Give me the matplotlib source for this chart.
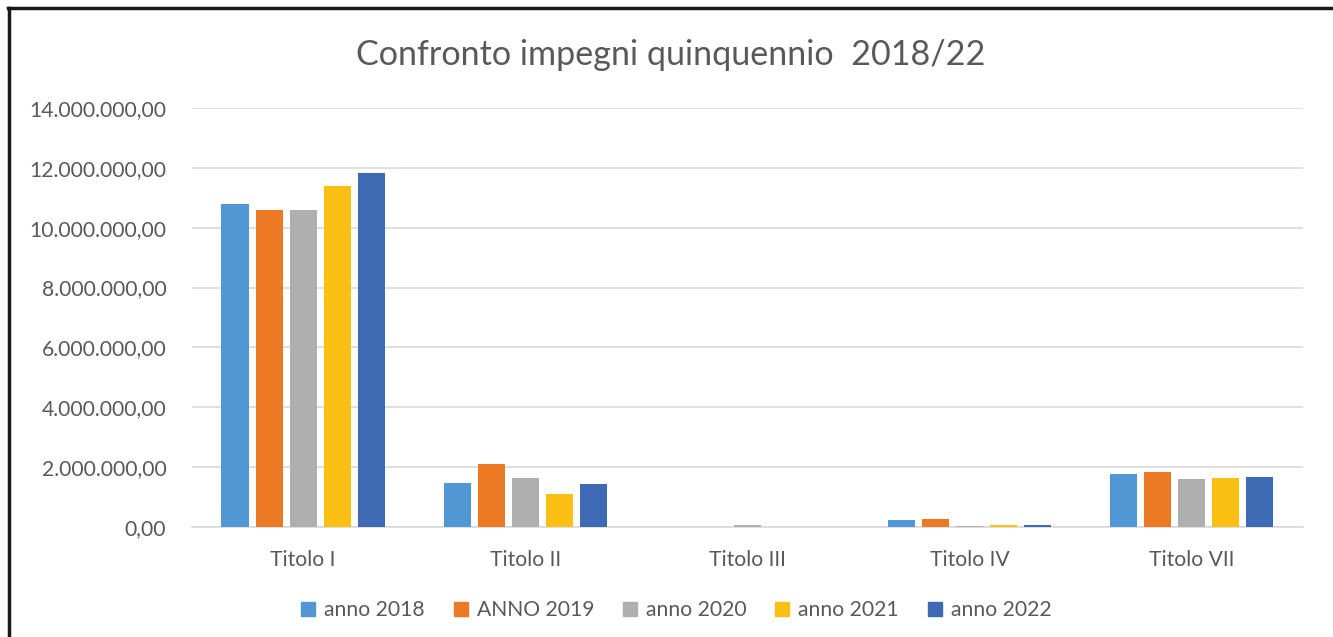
import matplotlib
matplotlib.use("Agg")
import matplotlib.pyplot as plt
from matplotlib.lines import Line2D
from matplotlib.ticker import FuncFormatter
import numpy as np

plt.rcParams['font.family'] = ['Lato', 'DejaVu Sans']

categories = ["Titolo I", "Titolo II", "Titolo III", "Titolo IV", "Titolo VII"]
series_names = ["anno 2018", "ANNO 2019", "anno 2020", "anno 2021", "anno 2022"]
anno_2018 = [10790000, 1470000, 0, 250000, 1770000]
anno_2019 = [10600000, 2120000, 0, 260000, 1830000]
anno_2020 = [10590000, 1630000, 60000, 30000, 1590000]
anno_2021 = [11390000, 1100000, 0, 60000, 1630000]
anno_2022 = [11830000, 1430000, 0, 60000, 1680000]
series = [anno_2018, anno_2019, anno_2020, anno_2021, anno_2022]
colors = ["#5097d4", "#ec7a24", "#b0afaf", "#fcbf14", "#3e6ab4"]
yticks = [0, 2000000, 4000000, 6000000, 8000000, 10000000, 12000000, 14000000]

fig = plt.figure(figsize=(13.33, 6.37), dpi=100)
ax = fig.add_axes([0.144, 0.1727, 0.8335, 0.6578])

x = np.arange(len(categories))
pitch = 34 / 222
width = 27 / 222
for i, (vals, c) in enumerate(zip(series, colors)):
    ax.bar(x + (i - 2) * pitch, vals, width=width, color=c, zorder=3)

ax.set_ylim(0, 14000000)
ax.set_xlim(-0.5, len(categories) - 0.5)
ax.set_yticks(yticks)

def fmt(v, pos):
    s = f"{int(round(v)):,}".replace(",", ".")
    return s + ",00"
ax.yaxis.set_major_formatter(FuncFormatter(fmt))
ax.set_xticks(x)
ax.set_xticklabels(categories)
ax.grid(axis='y', color='#d9d9d9', linewidth=1.2, zorder=0)
for s in ['top', 'right', 'left']:
    ax.spines[s].set_visible(False)
ax.spines['bottom'].set_color('#d9d9d9')
ax.spines['bottom'].set_linewidth(1.2)
ax.tick_params(axis='both', length=0, labelsize=15.2, labelcolor='#595959')
ax.tick_params(axis='y', pad=18.5)
ax.tick_params(axis='x', pad=16.5)

fig.text(0.5 * (357 + 985) / 1333, 1 - 55 / 637, "Confronto impegni quinquennio  2018/22",
         ha='center', va='center', fontsize=24.6, color='#595959')

handles = [Line2D([0], [0], marker='s', linestyle='none', markersize=9.5,
                  markerfacecolor=c, markeredgecolor=c) for c in colors]
fig.legend(handles, series_names, loc='center', bbox_to_anchor=(0.5 * (304 + 1045) / 1333, 1 - 610 / 637),
           ncol=5, frameon=False, fontsize=15.2, labelcolor='#595959',
           handletextpad=0.25, columnspacing=1.2, handlelength=1.0)

# border lines (top and left)
fig.add_artist(Line2D([9 / 1333, 9 / 1333], [0, 1 - 8 / 637], color='#1a1a1a', linewidth=2.5,
                      transform=fig.transFigure))
fig.add_artist(Line2D([8 / 1333, 1], [1 - 8 / 637, 1 - 8 / 637], color='#1a1a1a', linewidth=2.5,
                      transform=fig.transFigure))

fig.savefig("out.png", dpi=100)
